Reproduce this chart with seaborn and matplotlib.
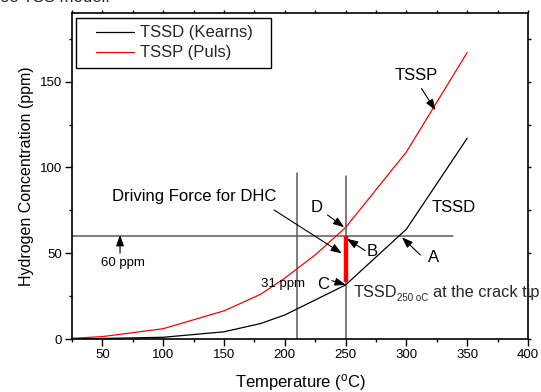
import numpy as np
import pandas as pd
import matplotlib
matplotlib.use("Agg")
import matplotlib.pyplot as plt
from matplotlib.patches import Rectangle
from matplotlib.ticker import MultipleLocator
import seaborn as sns

sns.set_theme(style="ticks")
plt.rcParams['font.family'] = ['Liberation Sans', 'DejaVu Sans']
plt.rcParams['mathtext.fontset'] = 'custom'
plt.rcParams['mathtext.rm'] = 'Liberation Sans'
plt.rcParams['mathtext.it'] = 'Liberation Sans:italic'

# Solubility curves (temperature in C, hydrogen in ppm)
temp_kearns = [25, 50, 100, 150, 180, 200, 250, 300, 350]
tssd_kearns = [0, 0.3, 1.0, 4.2, 9.0, 14.0, 31.5, 64.0, 117.0]
temp_puls = [25, 50, 100, 150, 180, 200, 225, 250, 300, 350]
tssp_puls = [0.4, 1.4, 6.0, 16.4, 26.0, 35.5, 49.0, 65.0, 109.0, 167.0]

series_names = ["TSSD (Kearns)", "TSSP (Puls)"]
series_colors = {"TSSD (Kearns)": "black", "TSSP (Puls)": "red"}

# reference levels
hydrogen_level = 60      # ppm, horizontal line
temp_low = 210           # C, where TSSD = 31 ppm
temp_tip = 250           # C, crack tip temperature
tssd_at_tip = 33         # ppm, bottom of the driving force bar

df = pd.concat([
    pd.DataFrame({"Temperature": temp_kearns, "H": tssd_kearns, "series": series_names[0]}),
    pd.DataFrame({"Temperature": temp_puls, "H": tssp_puls, "series": series_names[1]}),
])

fig = plt.figure(figsize=(5.41, 3.92), dpi=100)
ax = fig.add_axes([72 / 541, 53 / 392, 456 / 541, 326 / 392])

sns.lineplot(data=df, x="Temperature", y="H", hue="series", palette=series_colors,
             estimator=None, sort=False, linewidth=0.9, ax=ax, legend=False)

# guide lines
gray = "#5a5a5a"
ax.plot([25, 338], [hydrogen_level, hydrogen_level], color=gray, lw=1.1, zorder=1)
ax.plot([temp_low, temp_low], [0, 96.5], color=gray, lw=1.1, zorder=1)
ax.plot([temp_tip, temp_tip], [0, 95], color=gray, lw=1.1, zorder=1)
ax.plot([temp_tip, temp_tip], [tssd_at_tip, hydrogen_level], color="red", lw=3.2, zorder=3,
        solid_capstyle="butt")

ax.set_xlim(25, 400)
ax.set_ylim(0, 190)
ax.xaxis.set_major_locator(MultipleLocator(50))
ax.xaxis.set_minor_locator(MultipleLocator(25))
ax.yaxis.set_major_locator(MultipleLocator(50))
ax.yaxis.set_minor_locator(MultipleLocator(25))

ax.tick_params(axis="both", which="major", direction="out", length=5, width=1,
               labelsize=9.5, pad=2, color="black", labelcolor="black")
ax.tick_params(axis="both", which="minor", direction="out", length=2, width=1, color="black")
ax.tick_params(top=True, right=True, which="both")
for sp in ax.spines.values():
    sp.set_color("black")
    sp.set_linewidth(1.2)
ax.grid(False)

ax.set_xlabel(r"Temperature ($^{\mathrm{o}}$C)", fontsize=12, labelpad=8, color="black")
ax.set_ylabel("Hydrogen Concentration (ppm)", fontsize=11.5, labelpad=4, color="black")

# legend box
ax.add_patch(Rectangle((0.0094, 0.8325), 0.4274, 0.1531, transform=ax.transAxes,
                       facecolor="white", edgecolor="black", lw=1.0, zorder=4))
handles = [plt.Line2D([], [], color=series_colors[n], lw=0.9) for n in series_names]
ax.legend(handles, series_names, loc="upper left", bbox_to_anchor=(0.0535, 0.962),
          frameon=False, fontsize=12, borderpad=0, borderaxespad=0,
          handlelength=2.25, handletextpad=0.35, labelspacing=0.3).set_zorder(5)

arrow = dict(arrowstyle="-|>,head_length=0.55,head_width=0.2", color="black",
             lw=0.8, mutation_scale=12, shrinkA=0, shrinkB=0)

def note(label, pos, start=None, end=None, size=12):
    if label:
        ax.text(pos[0], pos[1], label, fontsize=size, color="black",
                ha="center", va="center", zorder=6)
    if start is not None:
        ax.annotate("", xy=end, xytext=start, arrowprops=arrow, zorder=6)

note("TSSP", (308.1, 153.5), (312.4, 146.0), (323.9, 133.3))
note("TSSD", (338.8, 76.5))
note("D", (226.4, 76.5), (235.1, 72.3), (248.8, 65.1))
note("B", (271.6, 50.9), (266.1, 51.5), (251.1, 58.4))
note("A", (322.3, 47.4), (311.4, 49.0), (296.3, 59.3))
note("C", (231.8, 31.9), (238.7, 34.0), (250.2, 31.5))
note("Driving Force for DHC", (125.8, 83.3), (191.2, 75.2), (246.9, 49.9))
note("31 ppm", (198.9, 31.9), size=9.5)
note("60 ppm", (67.2, 44.1), (64.5, 50.0), (64.5, 60.6), size=9.5)

# TSSD at 250 oC label, subscript set smaller like the original
ax.text(256.5, 24.6, "TSSD", fontsize=11.7, ha="left", va="baseline", zorder=6)
ax.text(292.2, 22.3, "250 oC", fontsize=7, ha="left", va="baseline", zorder=6)
ax.text(321.6, 24.6, "at the crack tip", fontsize=11.7, ha="left", va="baseline",
        clip_on=False, zorder=6)

# short top/right ticks
for t in ax.xaxis.get_major_ticks() + ax.xaxis.get_minor_ticks():
    t.tick2line.set_markersize(2)
for t in ax.yaxis.get_major_ticks() + ax.yaxis.get_minor_ticks():
    t.tick2line.set_markersize(2)

# clipped line of document text above the chart
fig.text(0.0, 1 - 2 / 392, "ee TSS model.", fontsize=12, ha="left", va="baseline")

fig.savefig("out.png", dpi=100)
